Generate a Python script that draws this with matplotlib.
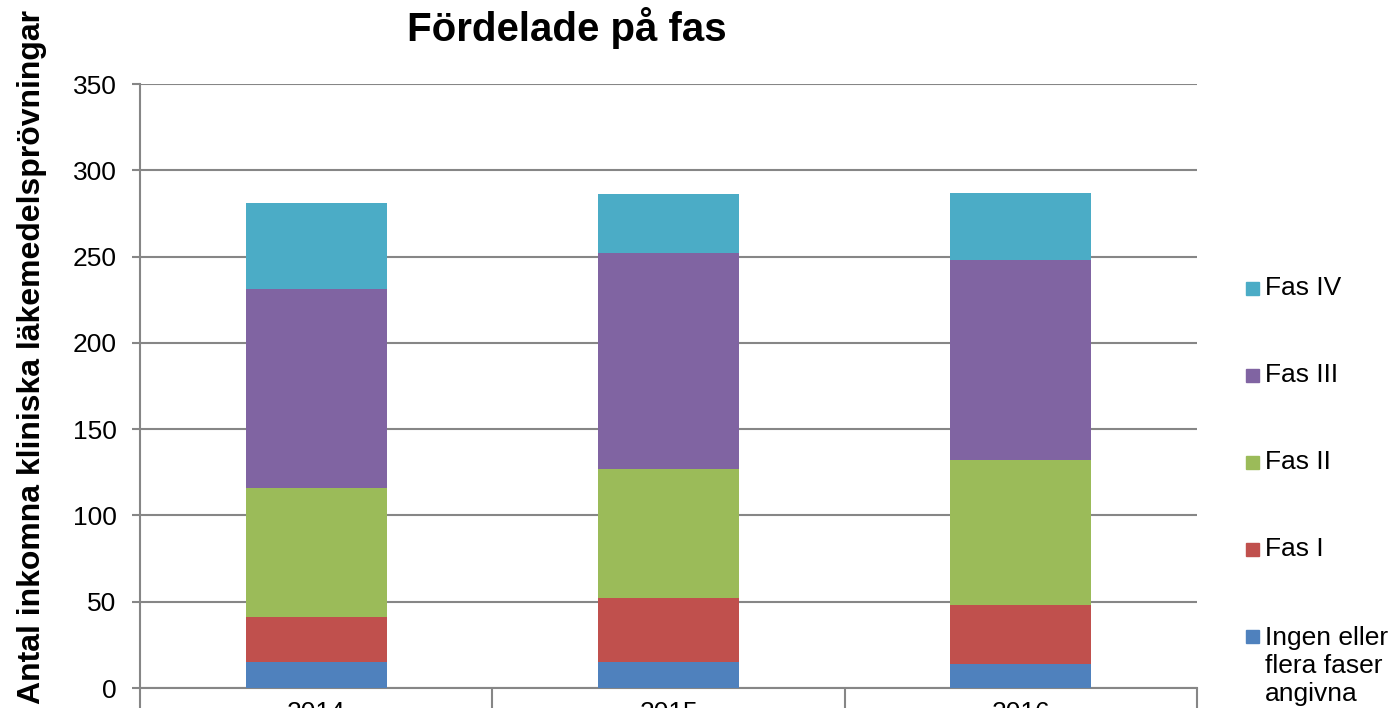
import numpy as np
import matplotlib.pyplot as plt
from matplotlib.patches import Rectangle
from matplotlib.ticker import FixedLocator

plt.rcParams['font.family'] = ['Liberation Sans', 'DejaVu Sans']

years = ['2014', '2015', '2016']
phases = ['Ingen eller\nflera faser\nangivna', 'Fas I', 'Fas II', 'Fas III', 'Fas IV']
ingen = [15, 15, 14]
fas1 = [26, 37, 34]
fas2 = [75, 75, 84]
fas3 = [115, 125, 116]
fas4 = [50, 34, 39]
colors = ['#4f81bd', '#c0504d', '#9bbb59', '#8064a2', '#4bacc6']

series = [ingen, fas1, fas2, fas3, fas4]

W, H = 1393, 708
fig = plt.figure(figsize=(W / 100, H / 100), dpi=100)
ax = fig.add_axes([140 / W, 20 / H, 1057 / W, 604 / H])

x = np.arange(len(years))
bottom = np.zeros(len(years))
for vals, lab, c in zip(series, phases, colors):
    ax.bar(x, vals, width=0.4, bottom=bottom, color=c, label=lab, zorder=3)
    bottom += np.array(vals)

ax.set_xlim(-0.5, 2.5)
ax.set_ylim(0, 350)
ax.set_yticks(range(0, 351, 50))
ax.yaxis.grid(True, color='#868686', linewidth=1.5, zorder=0)
ax.set_axisbelow(True)

ax.set_xticks(x)
ax.set_xticklabels(years, fontsize=19)
ax.tick_params(axis='x', which='major', length=0, pad=9)
ax.xaxis.set_minor_locator(FixedLocator([-0.5, 0.5, 1.5, 2.5]))
ax.tick_params(axis='x', which='minor', length=30, width=1.5, color='#868686')
ax.tick_params(axis='y', length=6, width=1.5, color='#868686', labelsize=19, pad=11)

for s in ['top', 'right']:
    ax.spines[s].set_visible(False)
for s in ['left', 'bottom']:
    ax.spines[s].set_color('#868686')
    ax.spines[s].set_linewidth(1.5)

ax.set_ylabel('Antal inkomna kliniska läkemedelsprövningar', fontsize=23,
              fontweight='bold')
ax.yaxis.set_label_coords((47 - 140) / 1057, (688 - 357) / 604)

fig.text(567 / W, 1 - 28 / H, 'Fördelade på fas', fontsize=29,
         fontweight='bold', ha='center', va='center')

# legend, drawn by hand so the square sits at the first line of a wrapped label
for i, (lab, c) in enumerate(zip(phases[::-1], colors[::-1])):
    yc = 288 + 87 * i
    fig.patches.append(Rectangle((1246 / W, 1 - (yc + 6.5) / H), 13 / W, 13 / H,
                                 transform=fig.transFigure, color=c))
    if '\n' in lab:
        fig.text(1265 / W, 1 - (yc - 10) / H, lab, fontsize=19, ha='left',
                 va='top', linespacing=1.22)
    else:
        fig.text(1265 / W, 1 - yc / H, lab, fontsize=19, ha='left', va='center')

fig.savefig('out.png', dpi=100)
